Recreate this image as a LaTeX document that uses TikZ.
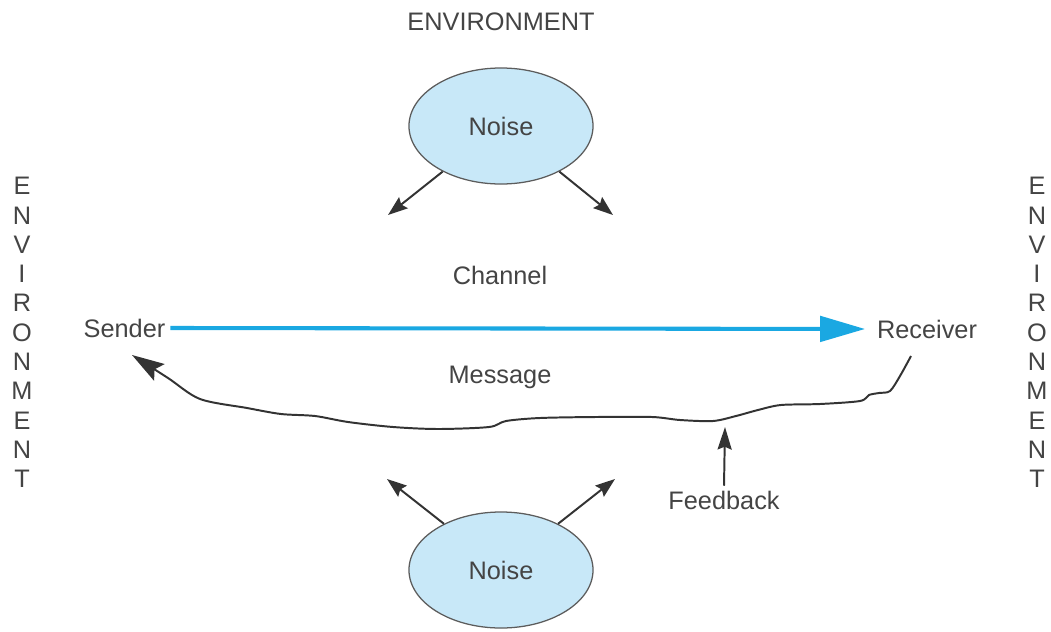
\documentclass[tikz,border=0pt]{standalone}
\usepackage{fontspec}
\setmainfont{Liberation Sans}
\usetikzlibrary{arrows.meta,shapes.geometric}
\definecolor{noisefill}{HTML}{C8E8F8}
\definecolor{channelblue}{HTML}{1AA8E2}
\definecolor{inkgray}{HTML}{333333}
\definecolor{labelgray}{HTML}{444444}

\begin{document}
\begin{tikzpicture}[
    x=0.025cm,y=-0.025cm,
    every node/.style={font=\fontsize{18}{22}\selectfont,text=labelgray},
    noise/.style={ellipse,draw=inkgray!80,line width=0.9pt,fill=noisefill,
        minimum width=4.6cm,minimum height=2.9cm,inner sep=0pt},
    push/.style={->,>={Stealth[length=14pt,width=10pt,inset=2pt]},
        draw=inkgray,line width=1.4pt},
    channel/.style={->,>={Triangle[length=32pt,width=18pt]},
        draw=channelblue,line width=2.9pt,shorten >=5pt},
    backline/.style={->,>={Stealth[length=23pt,width=14pt,inset=4pt]},
        draw=inkgray,line width=1.4pt}]
    \useasboundingbox (0,0) rectangle (1051,631);
    % surroundings
    \node (envtop) at (501,22) {ENVIRONMENT};
    \foreach \ch [count=\i from 0] in {E,N,V,I,R,O,N,M,E,N,T} {
        \node (envL\i) at (22,{186+29.3*\i}) {\ch};
        \node (envR\i) at (1037,{186+29.3*\i}) {\ch};
    }
    % noise sources
    \node[noise] (noiseT) at (501,126) {Noise};
    \node[noise] (noiseB) at (501,570) {Noise};
    \coordinate (tl) at (388,215);
    \coordinate (tr) at (613,215);
    \coordinate (bl) at (387,479);
    \coordinate (br) at (615,479);
    \draw[push] (noiseT.218) -- (tl);
    \draw[push] (noiseT.322) -- (tr);
    \draw[push] (noiseB.141) -- (bl);
    \draw[push] (noiseB.39) -- (br);
    % sender, channel, receiver
    \node (sender) at (124.5,328) {Sender};
    \node (receiver) at (927,329) {Receiver};
    \node (chan) at (500,275) {Channel};
    \node (msg) at (500,377) {Message};
    \draw[channel] (sender.east) -- (receiver.west);
    % feedback loop back to the sender
    \coordinate (fbstart) at (911,356);
    \coordinate (fbend) at (132,355);
    \draw[backline] plot[smooth,tension=0.5] coordinates {
        (fbstart) (900,376) (890,391) (879,393) (869,395) (860,401)
        (820,404) (781,405) (758,410) (736,416) (713,421) (680,420)
        (652,417) (596,417) (540,418) (506,421) (489,427) (438,429)
        (393,427) (348,422) (315,416) (281,414) (247,408) (200,399)
        (168,378) (fbend)};
    \node (feedback) at (724,500) {Feedback};
    \coordinate (fbtip) at (725,427);
    \draw[push,>={Stealth[length=16pt,width=10pt,inset=2pt]}]
        (feedback.north) -- (fbtip);
\end{tikzpicture}
\end{document}
